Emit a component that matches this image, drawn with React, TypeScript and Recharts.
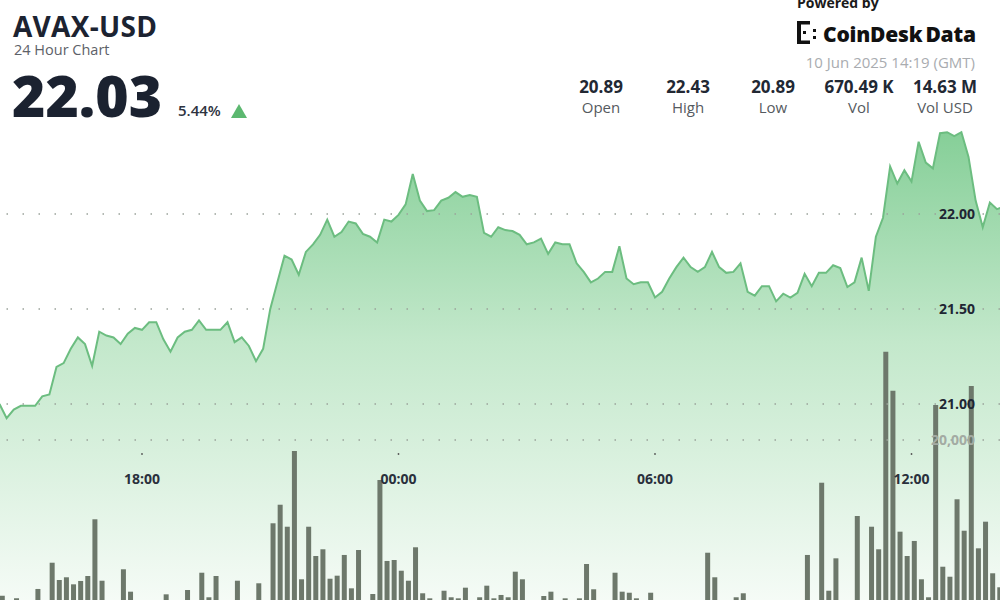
import React from "react";
import { ComposedChart, Area, Bar, XAxis, YAxis, ReferenceLine } from "recharts";

// 10-minute closes, first one at 14:40 (minutes since midnight of day 1)
const firstMinute = 880;
const stepMinutes = 10;

const prices = [
  21.0, 20.925, 20.97, 20.99, 20.99, 20.99, 21.04, 21.05, 21.195, 21.215,
  21.29, 21.35, 21.315, 21.2, 21.38, 21.36, 21.35, 21.315, 21.37, 21.4,
  21.39, 21.43, 21.43, 21.34, 21.275, 21.35, 21.38, 21.39, 21.44, 21.39,
  21.39, 21.39, 21.43, 21.325, 21.35, 21.305, 21.225, 21.29, 21.5, 21.64,
  21.78, 21.76, 21.68, 21.8, 21.84, 21.89, 21.97, 21.88, 21.905, 21.96,
  21.95, 21.895, 21.88, 21.85, 21.97, 21.96, 21.995, 22.05, 22.21, 22.07,
  22.015, 22.02, 22.07, 22.085, 22.115, 22.09, 22.1, 22.09, 21.9, 21.88,
  21.93, 21.915, 21.91, 21.89, 21.84, 21.85, 21.87, 21.79, 21.85, 21.84,
  21.84, 21.74, 21.695, 21.64, 21.66, 21.695, 21.695, 21.83, 21.66, 21.63,
  21.64, 21.64, 21.56, 21.59, 21.66, 21.72, 21.77, 21.72, 21.695, 21.72,
  21.8, 21.72, 21.69, 21.695, 21.74, 21.59, 21.57, 21.62, 21.62, 21.54,
  21.58, 21.56, 21.585, 21.685, 21.62, 21.69, 21.69, 21.73, 21.715, 21.615,
  21.64, 21.77, 21.595, 21.88, 21.98, 22.25, 22.16, 22.23, 22.17, 22.38,
  22.27, 22.24, 22.425, 22.43, 22.41, 22.43, 22.3, 22.07, 21.93, 22.06,
  22.025, 22.04,
];

const volumes = [
  0, 540, 0, 210, 0, 0, 1380, 0, 4660, 2500,
  2840, 1960, 2380, 3000, 10090, 2410, 0, 0, 3840, 1040,
  0, 0, 0, 0, 710, 0, 0, 1250, 0, 3410,
  340, 3000, 0, 0, 2410, 0, 0, 2090, 0, 9590,
  11910, 9160, 18630, 2590, 9160, 5500, 6340, 2660, 3040, 5630,
  1460, 6250, 0, 750, 15000, 4880, 5000, 3660, 2410, 6590,
  840, 210, 0, 1160, 340, 210, 1540, 0, 340, 1790,
  210, 630, 340, 3540, 2590, 0, 0, 500, 1040, 0,
  210, 0, 210, 4500, 1340, 0, 0, 3410, 1040, 910,
  210, 0, 910, 0, 0, 0, 0, 0, 0, 0,
  5910, 2840, 0, 0, 340, 840, 0, 0, 0, 0,
  0, 0, 0, 0, 5630, 0, 14660, 1160, 5210, 0,
  0, 10500, 0, 9160, 6340, 31040, 26160, 8540, 5500, 7380,
  2590, 340, 24380, 4160, 2910, 12590, 8660, 26750, 6460, 9790,
  3340, 1590,
];

const timeTicks = [1080, 1440, 1800, 2160]; // 18:00, 00:00, 06:00, 12:00
const priceTicks = [21, 21.5, 22];
const volumeTick = 20000;

const statValues = ["20.89", "22.43", "20.89", "670.49 K", "14.63 M"];
const statLabels = ["Open", "High", "Low", "Vol", "Vol USD"];

const data = prices.map((p, i) => ({
  t: firstMinute + stepMinutes * i,
  price: p,
  volume: volumes[i],
}));

const FONT = "'Open Sans', 'Noto Sans', sans-serif";
const DOTS = "1.5 14.5";

const fmtTime = (m: number) => `${String(Math.floor(m / 60) % 24).padStart(2, "0")}:00`;

// label for a vertical (time) reference line: small tick dot + bold hh:00 text
const timeLabel = (m: number) => (props: any) => {
  const vb = props.viewBox || {};
  const x = vb.x ?? 0;
  const bottom = (vb.y ?? 0) + (vb.height ?? 0);
  return (
    <g>
      <circle cx={x} cy={bottom - 146} r={0.9} fill="#555" />
      <text x={x} y={bottom - 116} textAnchor="middle" fill="#2a303c" fontSize={14} fontWeight={700} fontFamily={FONT}>
        {fmtTime(m)}
      </text>
    </g>
  );
};

function Logo() {
  return (
    <svg width={22} height={24} viewBox="0 0 22 24" style={{ position: "absolute", left: 797, top: 21 }}>
      <rect x={0} y={0} width={4} height={23} fill="#111" />
      <rect x={0} y={0} width={13} height={3.5} fill="#111" />
      <rect x={0} y={19.5} width={13} height={3.5} fill="#111" />
      <rect x={6} y={10} width={3} height={3} fill="#111" />
      <rect x={16} y={8} width={3} height={3} fill="#111" />
      <rect x={16} y={15} width={3} height={3} fill="#111" />
    </svg>
  );
}

export default function App() {
  return (
    <div style={{ position: "absolute", left: 0, top: 0, width: 1000, height: 600, overflow: "hidden", background: "#fff", fontFamily: FONT }}>
      <ComposedChart width={1000} height={600} data={data} margin={{ top: 0, right: 0, bottom: 0, left: 0 }}>
        <defs>
          <linearGradient id="areaFill" x1="0" y1="0" x2="0" y2="1">
            <stop offset="0%" stopColor="#86cf98" stopOpacity={1} />
            <stop offset="45%" stopColor="#c3e8cb" stopOpacity={1} />
            <stop offset="100%" stopColor="#f5fbf6" stopOpacity={1} />
          </linearGradient>
        </defs>
        <XAxis xAxisId="time" dataKey="t" type="number" domain={[880.7, 2284.2]} allowDataOverflow hide />
        <XAxis xAxisId="bars" dataKey="t" type="number" domain={[886.7, 2290.2]} allowDataOverflow hide />
        <YAxis yAxisId="price" orientation="right" width={0} type="number" domain={[19.968, 23.126]} allowDataOverflow hide />
        <YAxis yAxisId="vol" orientation="right" width={0} type="number" domain={[0, 75000]} allowDataOverflow hide />
        <Area
          xAxisId="time"
          yAxisId="price"
          type="linear"
          dataKey="price"
          stroke="#6cbd80"
          strokeWidth={2}
          fill="url(#areaFill)"
          fillOpacity={1}
          baseValue="dataMin"
          dot={false}
          activeDot={false}
          isAnimationActive={false}
        />
        {priceTicks.map((v) => (
          <ReferenceLine
            key={v}
            xAxisId="time"
            yAxisId="price"
            y={v}
            stroke="#9aa39b"
            strokeWidth={1.5}
            strokeDasharray={DOTS}
            label={{ value: v.toFixed(2), position: "insideRight", offset: 25, fill: "#1f2633", fontSize: 14, fontWeight: 700, fontFamily: FONT }}
          />
        ))}
        <ReferenceLine
          xAxisId="time"
          yAxisId="vol"
          y={volumeTick}
          stroke="#9aa39b"
          strokeWidth={1.5}
          strokeDasharray={DOTS}
          label={{ value: volumeTick.toLocaleString("en-US"), position: "insideRight", offset: 25, fill: "#a3aba3", fontSize: 14, fontWeight: 700, fontFamily: FONT }}
        />
        {timeTicks.map((m) => (
          <ReferenceLine key={m} xAxisId="time" yAxisId="price" x={m} stroke="none" label={timeLabel(m)} />
        ))}
        <Bar xAxisId="bars" yAxisId="vol" dataKey="volume" fill="#6d786b" barSize={5} isAnimationActive={false} />
      </ComposedChart>

      <div style={{ position: "absolute", left: 13, top: 12, fontSize: 28, fontWeight: 700, lineHeight: 1, color: "#1c2331", letterSpacing: 0.3 }}>AVAX-USD</div>
      <div style={{ position: "absolute", left: 14, top: 43, fontSize: 14.5, lineHeight: 1, color: "#5d6168" }}>24 Hour Chart</div>
      <div style={{ position: "absolute", left: 12, top: 67, fontSize: 57, fontWeight: 800, lineHeight: 1, color: "#1b2230" }}>22.03</div>
      <div style={{ position: "absolute", left: 178, top: 103, fontSize: 15, fontWeight: 600, lineHeight: 1, color: "#2d3340" }}>5.44%</div>
      <svg width={16} height={14} style={{ position: "absolute", left: 231, top: 104 }}>
        <polygon points="8,0 16,14 0,14" fill="#5cb870" />
      </svg>

      <div style={{ position: "absolute", left: 797, top: -4, fontSize: 14, fontWeight: 700, lineHeight: 1, color: "#1a1a1a" }}>Powered by</div>
      <Logo />
      <div style={{ position: "absolute", left: 823, top: 24, fontSize: 21, fontWeight: 800, lineHeight: 1, color: "#111", letterSpacing: -0.2 }}>
        CoinDesk<span style={{ marginLeft: 3 }}>Data</span>
      </div>
      <div style={{ position: "absolute", right: 25, top: 55, fontSize: 15, lineHeight: 1, color: "#a9acb0" }}>10 Jun 2025 14:19 (GMT)</div>

      {statValues.map((v, i) => {
        const centers = [601, 688, 773, 859, 945];
        return (
          <React.Fragment key={statLabels[i]}>
            <div style={{ position: "absolute", left: centers[i] - 60, width: 120, top: 78, textAlign: "center", fontSize: 17, fontWeight: 700, lineHeight: 1, color: "#222833" }}>{v}</div>
            <div style={{ position: "absolute", left: centers[i] - 60, width: 120, top: 100, textAlign: "center", fontSize: 15, lineHeight: 1, color: "#555a60" }}>{statLabels[i]}</div>
          </React.Fragment>
        );
      })}
    </div>
  );
}
